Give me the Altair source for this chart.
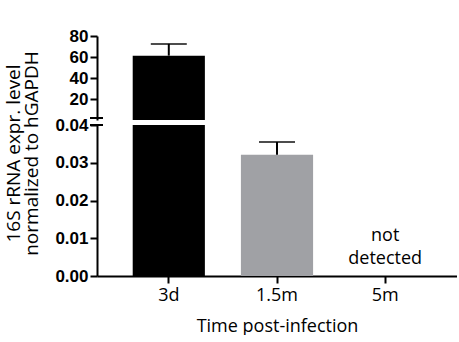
import altair as alt
import pandas as pd

categories = ["3d", "1.5m", "5m"]
means = [61.3, 0.0321, None]
upper = [72.5, 0.0355, None]
colors = ["#000000", "#a0a1a5", "#ffffff"]
top_ticks = [20, 40, 60, 80]
bottom_ticks = [0.00, 0.01, 0.02, 0.03, 0.04]
note_text = "not\ndetected"

df = pd.DataFrame({"cat": categories, "mean": means, "upper": upper, "color": colors})

W = 360
H_TOP = 84
H_BOT = 151

xscale = alt.Scale(domain=categories, paddingInner=0.333, paddingOuter=0.33)
axis_font = "Liberation Sans"
x_font = "Open Sans"

common_y = dict(grid=False, domainWidth=2, domainColor="black", tickColor="black",
                tickWidth=2, tickSize=7, labelFont=axis_font, labelFontWeight="bold",
                labelFontSize=17, labelColor="black", labelPadding=2,
                labelOverlap=False, labelFlush=False, tickCount=10)

# ---- top panel ----
top_base = alt.Chart(df).transform_filter("datum.mean > 1")
ytop = alt.Scale(domain=[0, 80], nice=False)

top_bar = top_base.mark_bar(clip=True).encode(
    x=alt.X("cat:N", scale=xscale, axis=None, sort=categories),
    y=alt.Y("mean:Q", scale=ytop, axis=alt.Axis(values=top_ticks, title=None, **common_y)),
    color=alt.Color("color:N", scale=None),
)
top_err = top_base.mark_rule(color="black", strokeWidth=2).encode(
    x=alt.X("cat:N", scale=xscale, sort=categories), y=alt.Y("mean:Q", scale=ytop), y2="upper:Q")
top_cap = top_base.mark_tick(color="black", thickness=2, size=36, orient="horizontal").encode(
    x=alt.X("cat:N", scale=xscale, sort=categories), y=alt.Y("upper:Q", scale=ytop))
top_break = top_base.mark_rule(color="black", strokeWidth=2, clip=False).encode(
    x=alt.value(-7), x2=alt.value(6), y=alt.value(H_TOP - 2), y2=alt.value(H_TOP - 2))

top = alt.layer(top_bar, top_err, top_cap, top_break).properties(width=W, height=H_TOP)

# ---- bottom panel ----
bot_base = alt.Chart(df)
ybot = alt.Scale(domain=[0, 0.04], nice=False, clamp=True)

bot_bar = bot_base.transform_filter("datum.mean != null").mark_bar().encode(
    x=alt.X("cat:N", scale=xscale, sort=categories,
            axis=alt.Axis(title="Time post-infection", labelAngle=0, domainWidth=2,
                          domainColor="black", tickColor="black", tickWidth=2, tickSize=7,
                          labelFont=x_font, labelFontSize=18, labelColor="black",
                          labelPadding=3, titleFont=x_font, titleFontSize=18,
                          titleFontWeight="normal", titleColor="black", titlePadding=13)),
    y=alt.Y("mean:Q", scale=ybot,
            axis=alt.Axis(values=bottom_ticks, format=".2f",
                          title=["16S rRNA expr. level", "normalized to hGAPDH"],
                          titleFont=x_font, titleFontSize=19, titleFontWeight="normal",
                          titleColor="black", titleLineHeight=18, titleAngle=-90,
                          titleX=-93, titleY=28, titleAlign="center", titleBaseline="top",
                          **common_y)),
    color=alt.Color("color:N", scale=None),
)
bot_err = bot_base.transform_filter("datum.mean != null && datum.mean < 1").mark_rule(
    color="black", strokeWidth=2).encode(
    x=alt.X("cat:N", scale=xscale, sort=categories), y=alt.Y("mean:Q", scale=ybot), y2="upper:Q")
bot_cap = bot_base.transform_filter("datum.mean != null && datum.mean < 1").mark_tick(
    color="black", thickness=2, size=36, orient="horizontal").encode(
    x=alt.X("cat:N", scale=xscale, sort=categories), y=alt.Y("upper:Q", scale=ybot))
bot_break = bot_base.mark_rule(color="black", strokeWidth=2, clip=False).encode(
    x=alt.value(-7), x2=alt.value(6), y=alt.value(0), y2=alt.value(0))
note = bot_base.transform_filter("datum.mean == null").mark_text(
    font=x_font, fontSize=18, color="black", lineBreak="\n", lineHeight=23,
    baseline="middle", align="center").encode(
    x=alt.X("cat:N", scale=xscale, sort=categories), y=alt.value(111),
    text=alt.value(note_text))

bottom = alt.layer(bot_bar, bot_err, bot_cap, bot_break, note).properties(width=W, height=H_BOT)

chart = alt.vconcat(top, bottom, spacing=5, bounds="flush").properties(
    padding={"left": 3, "top": 27, "right": 0, "bottom": 0},
).configure_view(stroke=None)

chart.save("out.html", embed_options={"renderer": "svg", "actions": False})
